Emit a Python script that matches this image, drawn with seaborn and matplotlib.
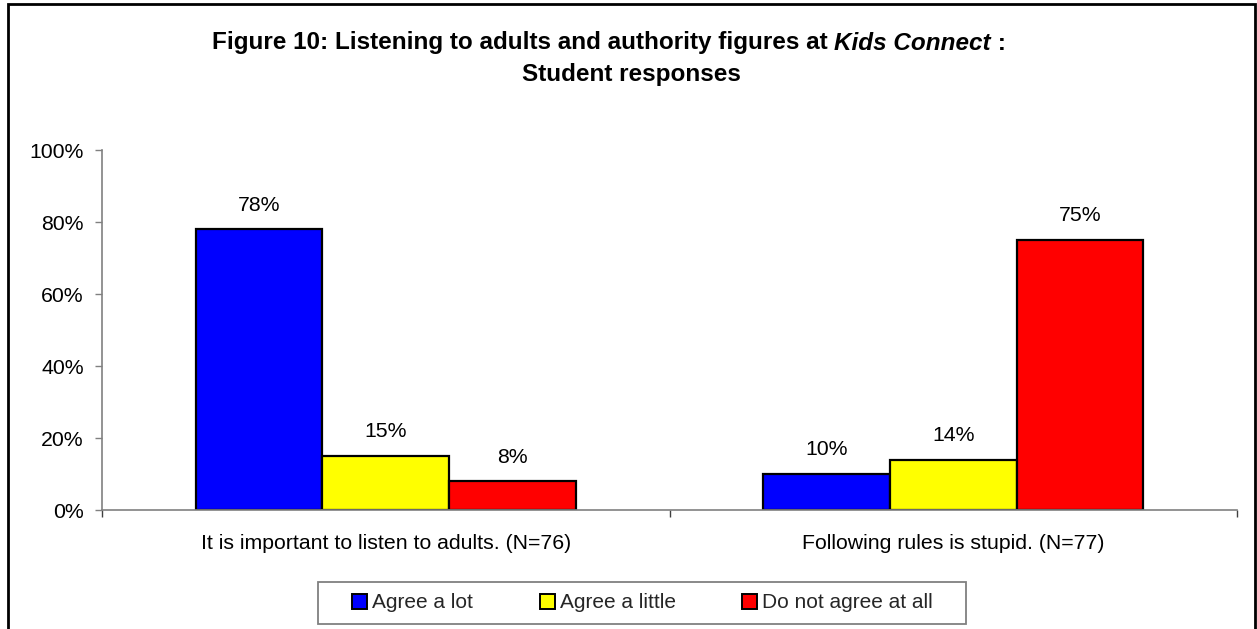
import matplotlib
matplotlib.use("Agg")
import matplotlib.pyplot as plt
import matplotlib.patches as mpatches
from matplotlib.ticker import FuncFormatter, FixedLocator
import seaborn as sns
import pandas as pd

categories = ["It is important to listen to adults. (N=76)",
              "Following rules is stupid. (N=77)"]
series_names = ["Agree a lot", "Agree a little", "Do not agree at all"]
agree_lot = [78, 10]
agree_little = [15, 14]
not_agree = [8, 75]
colors = ["#0000FF", "#FFFF00", "#FF0000"]
y_ticks = [0, 20, 40, 60, 80, 100]

rows = []
for name, vals in zip(series_names, [agree_lot, agree_little, not_agree]):
    for c, v in zip(categories, vals):
        rows.append({"category": c, "response": name, "value": v})
df = pd.DataFrame(rows)

sns.set_theme(style="white")
plt.rcParams["font.family"] = ["Liberation Sans", "DejaVu Sans"]

W, H = 1257, 629
fig = plt.figure(figsize=(W / 100, H / 100), dpi=100)
ax = fig.add_axes([102 / W, 1 - 510 / H, (1237 - 102) / W, (510 - 150) / H])

sns.barplot(data=df, x="category", y="value", hue="response",
            hue_order=series_names, order=categories,
            palette=dict(zip(series_names, colors)), saturation=1,
            width=0.67, edgecolor="black", linewidth=1.6, ax=ax)

handles, labels = ax.get_legend_handles_labels()
if ax.legend_ is not None:
    ax.legend_.remove()

for cont in ax.containers:
    ax.bar_label(cont, fmt="{:.0f}%", padding=10.5, fontsize=15.3, color="black")

ax.set_xlim(-0.5, 1.5)
ax.set_ylim(0, 100)
ax.set_yticks(y_ticks)
ax.yaxis.set_major_formatter(FuncFormatter(lambda v, p: f"{v:.0f}%"))
ax.set_xlabel("")
ax.set_ylabel("")

for s in ["top", "right"]:
    ax.spines[s].set_visible(False)
for s in ["left", "bottom"]:
    ax.spines[s].set_color("#808080")
    ax.spines[s].set_linewidth(1.2)

ax.tick_params(axis="y", which="major", direction="out", length=5, width=1,
               color="#808080", pad=8, labelsize=15.3, left=True)
ax.tick_params(axis="x", which="major", length=0, pad=17, labelsize=15.3)
ax.xaxis.set_minor_locator(FixedLocator([-0.5, 0.5, 1.5]))
ax.tick_params(axis="x", which="minor", direction="out", length=5, width=1,
               color="#404040", bottom=True)
for t in ax.get_yticklabels() + ax.get_xticklabels():
    t.set_color("black")

# legend (frameless, with a separately drawn box)
leg = fig.legend(handles, labels, loc="center left",
                 bbox_to_anchor=(352 / W, 1 - 603 / H), ncol=3,
                 frameon=False, fontsize=15,
                 handlelength=0.72, handleheight=0.72, handletextpad=0.24,
                 columnspacing=3.2, borderpad=0, borderaxespad=0)
for p in leg.get_patches():
    p.set_edgecolor("black")
    p.set_linewidth(1.4)
fig.patches.append(mpatches.Rectangle((318 / W, 1 - 624 / H), (966 - 318) / W,
                                      (624 - 582) / H, transform=fig.transFigure,
                                      fill=False, edgecolor="#808080", linewidth=1.3))

# title with mixed style
fig.canvas.draw()
renderer = fig.canvas.get_renderer()
parts = [("Figure 10: Listening to adults and authority figures at ", "normal"),
         ("Kids Connect", "italic"),
         (" :", "normal")]
y1 = 1 - 43 / H
texts = []
for s, st in parts:
    t = fig.text(0, y1, s, fontsize=17.5, fontweight="bold", style=st,
                 ha="left", va="center", color="black")
    texts.append(t)
widths = [t.get_window_extent(renderer).width for t in texts]
x = 212
for t, w in zip(texts, widths):
    t.set_x(x / W)
    x += w
fig.text(631 / W, 1 - 75 / H, "Student responses", fontsize=17.5,
         fontweight="bold", ha="center", va="center", color="black")

# figure border
fig.patches.append(mpatches.Rectangle((8 / W, -0.1), (1255 - 8) / W,
                                      1 - 4 / H + 0.1, transform=fig.transFigure,
                                      fill=False, edgecolor="black", linewidth=2))

fig.savefig("out.png", dpi=100)
